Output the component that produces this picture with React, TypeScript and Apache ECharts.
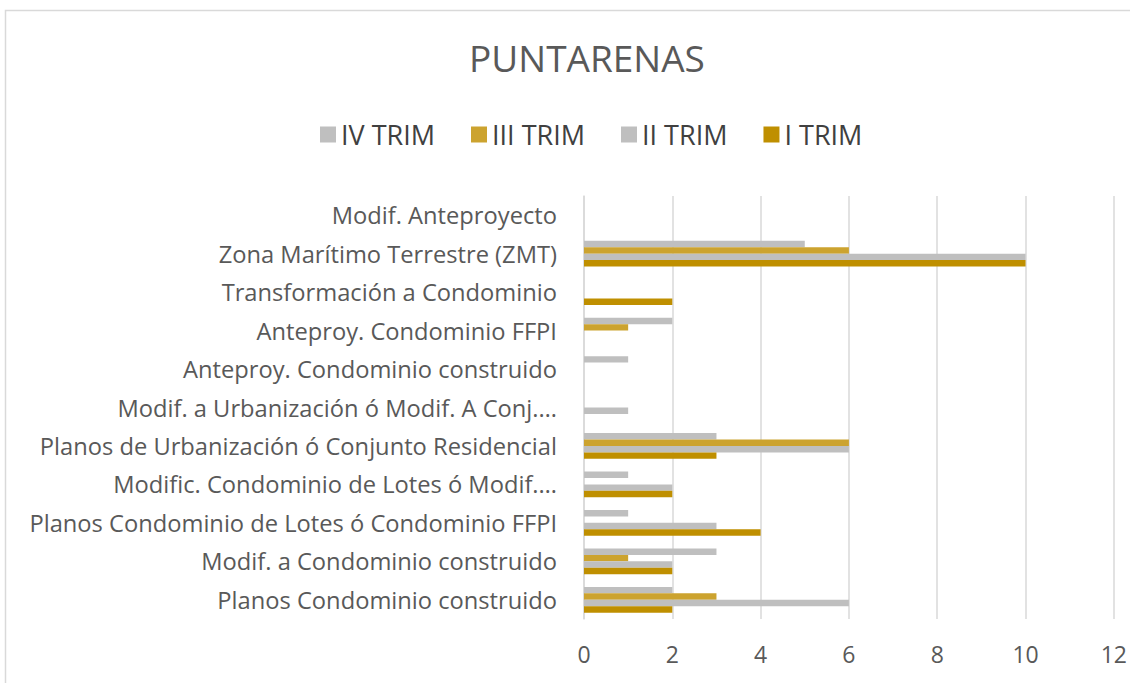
import React, { useEffect, useRef } from "react";
import * as echarts from "echarts";

const categories = [
  "Planos Condominio construido",
  "Modif. a Condominio construido",
  "Planos Condominio de Lotes ó Condominio FFPI",
  "Modific. Condominio de Lotes ó Modif.…",
  "Planos de Urbanización ó Conjunto Residencial",
  "Modif. a Urbanización ó Modif. A Conj.…",
  "Anteproy. Condominio construido",
  "Anteproy. Condominio FFPI",
  "Transformación a Condominio",
  "Zona Marítimo Terrestre (ZMT)",
  "Modif. Anteproyecto",
];

const trimI = [2, 2, 4, 2, 3, 0, 0, 0, 2, 10, 0];
const trimII = [6, 2, 3, 2, 6, 1, 0, 0, 0, 10, 0];
const trimIII = [3, 1, 0, 0, 6, 0, 0, 1, 0, 6, 0];
const trimIV = [2, 3, 1, 1, 3, 0, 1, 2, 0, 5, 0];

// series order: first series is drawn at the top of each group
const seriesNames = ["IV TRIM", "III TRIM", "II TRIM", "I TRIM"];
const seriesColors = ["#BFBFBF", "#CCA32F", "#BFBFBF", "#BF8F00"];
const seriesData = [trimIV, trimIII, trimII, trimI];
const legendOrder = ["IV TRIM", "III TRIM", "II TRIM", "I TRIM"];

const FONT = "'Open Sans', 'Noto Sans', sans-serif";

export default function App() {
  const ref = useRef<HTMLDivElement>(null);
  useEffect(() => {
    if (!ref.current) return;
    const chart = echarts.init(ref.current, null, { renderer: "svg" });
    chart.setOption({
      animation: false,
      backgroundColor: "#ffffff",
      graphic: [
        {
          type: "rect",
          shape: { x: 5.5, y: 10.5, width: 1170, height: 700 },
          style: { fill: "none", stroke: "#D9D9D9", lineWidth: 1.5 },
          silent: true,
          z: -1,
        },
      ],
      title: {
        text: "PUNTARENAS",
        left: 582,
        textAlign: "center",
        top: 34,
        textStyle: {
          fontFamily: FONT,
          fontSize: 37,
          fontWeight: "normal",
          color: "#595959",
        },
      },
      legend: {
        data: legendOrder,
        top: 121,
        left: 320,
        padding: 0,
        itemWidth: 16,
        itemHeight: 16,
        itemGap: 36,
        icon: "rect",
        textStyle: { fontFamily: FONT, fontSize: 27, color: "#404040" },
      },
      grid: {
        left: 584,
        right: 16,
        top: 196,
        bottom: 64,
        containLabel: false,
      },
      xAxis: {
        type: "value",
        min: 0,
        max: 12,
        interval: 2,
        axisLine: { show: false },
        axisTick: { show: false },
        splitLine: { show: true, lineStyle: { color: "#D9D9D9", width: 1.5 } },
        axisLabel: {
          fontFamily: FONT,
          fontSize: 23,
          color: "#595959",
          margin: 23,
        },
      },
      yAxis: {
        type: "category",
        data: categories,
        axisLine: { show: true, lineStyle: { color: "#D9D9D9", width: 1.5 } },
        axisTick: { show: false },
        axisLabel: {
          fontFamily: FONT,
          fontSize: 23.7,
          color: "#595959",
          margin: 27,
        },
      },
      series: seriesNames.map((name, i) => ({
        name,
        type: "bar",
        data: seriesData[i],
        itemStyle: { color: seriesColors[i] },
        barGap: "0%",
        barCategoryGap: "33%",
      })),
    });
    return () => chart.dispose();
  }, []);
  return (
    <div
      ref={ref}
      style={{ position: "fixed", left: 0, top: 0, width: 1130, height: 683 }}
    />
  );
}
